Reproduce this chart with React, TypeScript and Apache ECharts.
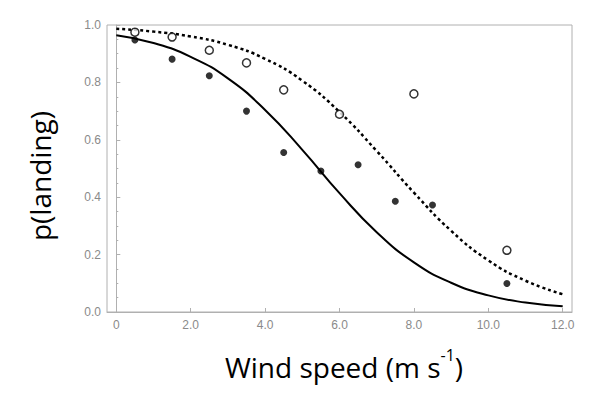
import React, { useEffect, useRef } from "react";
import * as echarts from "echarts";

// Observed points
const windX = [0.5, 1.5, 2.5, 3.5, 4.5, 5.5, 6.5, 7.5, 8.5, 10.5];
const filledP = [0.948, 0.881, 0.823, 0.7, 0.556, 0.491, 0.513, 0.386, 0.373, 0.099];
const openX = [0.5, 1.5, 2.5, 3.5, 4.5, 6.0, 8.0, 10.5];
const openP = [0.975, 0.958, 0.912, 0.868, 0.774, 0.689, 0.76, 0.215];

// Fitted curves
const curveX = [0, 1, 2, 3, 4, 5, 6, 7, 8, 9, 10, 11, 12];
const solidCurve = [0.964, 0.937, 0.889, 0.814, 0.704, 0.565, 0.414, 0.278, 0.173, 0.102, 0.058, 0.033, 0.02];
const dashedCurve = [0.987, 0.977, 0.96, 0.931, 0.882, 0.806, 0.697, 0.561, 0.416, 0.283, 0.18, 0.109, 0.062];

const xTicks = [0, 2, 4, 6, 8, 10, 12];

export default function App() {
  const ref = useRef<HTMLDivElement>(null);
  useEffect(() => {
    document.body.style.margin = "0";
    const chart = echarts.init(ref.current!, null, { renderer: "svg" });
    const labelColor = "#8a8a8a";
    const axisGray = "#b0b0b0";
    const titleFont = "Open Sans, Noto Sans, sans-serif";
    chart.setOption({
      animation: false,
      backgroundColor: "#fff",
      grid: {
        left: 107,
        right: 19,
        top: 25,
        bottom: 94,
        show: true,
        borderColor: axisGray,
        borderWidth: 1,
        backgroundColor: "transparent",
      },
      xAxis: {
        type: "value",
        min: -0.25,
        max: 12.25,
        splitLine: { show: false },
        axisLine: { show: true, lineStyle: { color: axisGray } },
        axisTick: {
          show: true,
          inside: true,
          length: 4,
          customValues: xTicks,
          lineStyle: { color: axisGray },
        },
        axisLabel: {
          customValues: xTicks,
          color: labelColor,
          fontSize: 12,
          fontFamily: "Liberation Sans, Arial, sans-serif",
          margin: 7,
          formatter: (v: number) => (v === 0 ? "0" : v.toFixed(1)),
        },
      },
      yAxis: {
        type: "value",
        min: 0,
        max: 1,
        interval: 0.2,
        splitLine: { show: false },
        axisLine: { show: true, lineStyle: { color: axisGray } },
        axisTick: { show: true, inside: true, length: 4, lineStyle: { color: axisGray } },
        minorTick: { show: true, splitNumber: 4, length: 2, lineStyle: { color: axisGray } },
        axisLabel: {
          color: labelColor,
          fontSize: 12,
          fontFamily: "Liberation Sans, Arial, sans-serif",
          margin: 6,
          formatter: (v: number) => v.toFixed(1),
        },
      },
      series: [
        {
          type: "line",
          data: curveX.map((x, i) => [x, dashedCurve[i]]),
          smooth: true,
          showSymbol: false,
          lineStyle: { color: "#000", width: 2.5, type: [3, 3] },
          z: 2,
        },
        {
          type: "line",
          data: curveX.map((x, i) => [x, solidCurve[i]]),
          smooth: true,
          showSymbol: false,
          lineStyle: { color: "#000", width: 2 },
          z: 2,
        },
        {
          type: "scatter",
          data: openX.map((x, i) => [x, openP[i]]),
          symbol: "circle",
          symbolSize: 8,
          itemStyle: { color: "#fff", borderColor: "#000", borderWidth: 1.5 },
          z: 3,
        },
        {
          type: "scatter",
          data: windX.map((x, i) => [x, filledP[i]]),
          symbol: "circle",
          symbolSize: 7,
          itemStyle: { color: "#000" },
          z: 4,
        },
      ],
      graphic: [
        {
          type: "text",
          x: 40,
          y: 176,
          rotation: Math.PI / 2,
          style: {
            text: "p(landing)",
            fontSize: 28,
            fontFamily: titleFont,
            fill: "#000",
            align: "center",
            verticalAlign: "middle",
          },
        },
        {
          type: "text",
          x: 344,
          y: 364,
          style: {
            text: "{b|Wind speed (m s}{s|-1}{b|)}",
            align: "center",
            verticalAlign: "middle",
            rich: {
              b: {
                fontSize: 28,
                fontFamily: titleFont,
                fill: "#000",
                lineHeight: 34,
                verticalAlign: "bottom",
              },
              s: {
                fontSize: 16,
                fontFamily: titleFont,
                fill: "#000",
                lineHeight: 34,
                verticalAlign: "top",
              },
            },
          },
        },
      ],
    });
    return () => chart.dispose();
  }, []);
  return <div ref={ref} style={{ width: 591, height: 406 }} />;
}
